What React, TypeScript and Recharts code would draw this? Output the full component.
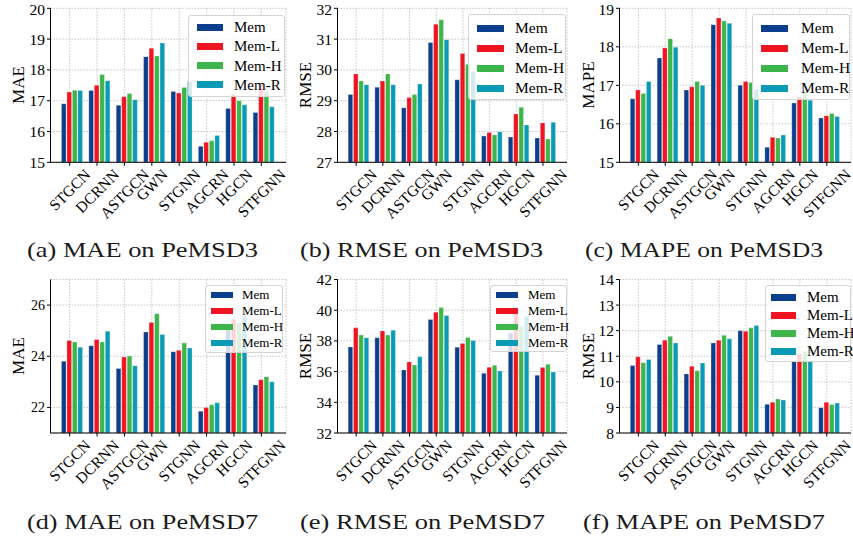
import { BarChart, Bar, XAxis, YAxis, CartesianGrid } from 'recharts';

const categories = ['STGCN', 'DCRNN', 'ASTGCN', 'GWN', 'STGNN', 'AGCRN', 'HGCN', 'STFGNN'];
const seriesNames = ['Mem', 'Mem-L', 'Mem-H', 'Mem-R'];
const seriesColors = ['#0b3f8d', '#ef1422', '#3db54a', '#0a9ab5'];

// (a) MAE on PeMSD3
const maeD3Mem = [16.9, 17.33, 16.85, 18.43, 17.3, 15.52, 16.75, 16.62];
const maeD3MemL = [17.28, 17.5, 17.13, 18.7, 17.25, 15.65, 17.2, 17.58];
const maeD3MemH = [17.34, 17.85, 17.23, 18.45, 17.43, 15.7, 17.0, 17.3];
const maeD3MemR = [17.33, 17.65, 17.03, 18.87, 17.62, 15.87, 16.87, 16.8];

// (b) RMSE on PeMSD3
const rmseD3Mem = [29.2, 29.44, 28.77, 30.89, 29.68, 27.85, 27.82, 27.79];
const rmseD3MemL = [29.87, 29.64, 29.1, 31.48, 30.53, 27.97, 28.57, 28.28];
const rmseD3MemH = [29.64, 29.87, 29.2, 31.63, 30.18, 27.89, 28.79, 27.76];
const rmseD3MemR = [29.52, 29.52, 29.54, 30.98, 29.95, 27.99, 28.21, 28.3];

// (c) MAPE on PeMSD3
const mapeD3Mem = [16.65, 17.71, 16.88, 18.57, 17.0, 15.39, 16.54, 16.15];
const mapeD3MemL = [16.88, 17.97, 16.96, 18.75, 17.1, 15.65, 16.7, 16.21];
const mapeD3MemH = [16.79, 18.21, 17.1, 18.67, 17.07, 15.63, 16.85, 16.27];
const mapeD3MemR = [17.1, 17.99, 17.0, 18.61, 16.9, 15.71, 16.61, 16.19];

// (d) MAE on PeMSD7
const maeD7Mem = [23.8, 24.41, 23.52, 24.95, 24.18, 21.85, 25.05, 22.88];
const maeD7MemL = [24.62, 24.65, 23.97, 25.32, 24.23, 22.0, 25.45, 23.08];
const maeD7MemH = [24.56, 24.56, 24.01, 25.66, 24.52, 22.1, 25.3, 23.2];
const maeD7MemR = [24.35, 24.98, 23.63, 24.85, 24.32, 22.18, 25.58, 23.0];

// (e) RMSE on PeMSD7
const rmseD7Mem = [37.61, 38.2, 36.11, 39.39, 37.59, 35.89, 38.52, 35.76];
const rmseD7MemL = [38.85, 38.65, 36.63, 39.87, 37.83, 36.28, 39.78, 36.26];
const rmseD7MemH = [38.39, 38.39, 36.43, 40.17, 38.22, 36.41, 38.96, 36.48];
const rmseD7MemR = [38.2, 38.7, 36.96, 39.65, 38.02, 36.04, 39.61, 35.98];

// (f) MAPE on PeMSD7
const mapeD7Mem = [10.64, 11.46, 10.31, 11.52, 12.0, 9.12, 10.81, 8.99];
const mapeD7MemL = [10.98, 11.63, 10.61, 11.63, 11.98, 9.2, 11.11, 9.2];
const mapeD7MemH = [10.75, 11.78, 10.43, 11.82, 12.11, 9.33, 11.19, 9.11];
const mapeD7MemR = [10.87, 11.52, 10.74, 11.68, 12.2, 9.29, 10.83, 9.17];

const SERIF = '"Liberation Serif", serif';

let measureCtx: CanvasRenderingContext2D | null = null;
function textWidth(s: string, font: string) {
  if (!measureCtx) measureCtx = document.createElement('canvas').getContext('2d');
  if (!measureCtx) return s.length * 8;
  measureCtx.font = font;
  return measureCtx.measureText(s).width;
}

// rotated category label, bbox centred under the tick
function SlantTick(props: any) {
  const { x, y, payload, fontSize } = props;
  const w = textWidth(payload.value, `${fontSize}px "Liberation Serif"`);
  const h = fontSize * 0.72;
  const half = 0.7071 * (w / 2 + h / 2);
  const cy = y + half;
  return (
    <text
      x={x}
      y={cy}
      textAnchor="middle"
      dominantBaseline="central"
      transform={`rotate(-45 ${x} ${cy})`}
      fill="#000"
      fontSize={fontSize}
      fontFamily={SERIF}
    >
      {payload.value}
    </text>
  );
}

type Box = { x: number; y: number; w: number; h: number };

interface PanelProps {
  left: number;
  top: number;
  width: number;
  height: number;
  plot: { x0: number; x1: number; y0: number; y1: number };
  values: number[][];
  domain: [number, number];
  ticks: number[];
  tickFont: number;
  legend: { box: Box; row0: number; step: number; patchX: number; patchW: number; patchH: number; textX: number; font: number };
}

function Panel({ left, top, width, height, plot, values, domain, ticks, tickFont, legend }: PanelProps) {
  const data = categories.map((name, i) => ({
    name,
    mem: values[0][i],
    memL: values[1][i],
    memH: values[2][i],
    memR: values[3][i],
  }));
  const yAxisW = 30;
  const xAxisH = 70;
  const margin = {
    top: plot.y0 - top,
    left: plot.x0 - left - yAxisW,
    right: left + width - plot.x1,
    bottom: top + height - plot.y1 - xAxisH,
  };
  const s = (plot.x1 - plot.x0) / 8.6;
  const keys = ['mem', 'memL', 'memH', 'memR'];
  return (
    <div style={{ position: 'absolute', left, top, width, height }}>
      <BarChart
        width={width}
        height={height}
        data={data}
        margin={margin}
        barSize={s * 0.17}
        barGap={s * 0.03}
      >
        <CartesianGrid stroke="#b8b8b8" strokeDasharray="1.5 1.5" strokeWidth={0.8} />
        <XAxis
          dataKey="name"
          type="category"
          interval={0}
          padding={{ left: s * 0.2, right: s * 0.4 }}
          height={xAxisH}
          tickSize={3.5}
          tickMargin={2}
          axisLine={{ stroke: '#000', strokeWidth: 1 }}
          tickLine={{ stroke: '#000' }}
          tick={<SlantTick fontSize={15.5} />}
        />
        <XAxis xAxisId="top" orientation="top" dataKey="name" height={0} tick={false} tickLine={false} axisLine={{ stroke: '#000', strokeWidth: 1 }} />
        <YAxis
          type="number"
          domain={domain}
          ticks={ticks}
          allowDataOverflow
          width={yAxisW}
          tickSize={3.5}
          tickMargin={2}
          axisLine={{ stroke: '#000', strokeWidth: 1 }}
          tickLine={{ stroke: '#000' }}
          tick={{ fill: '#000', fontSize: tickFont, fontFamily: SERIF }}
        />
        <YAxis yAxisId="right" orientation="right" type="number" domain={[0, 1]} width={0} tick={false} tickLine={false} axisLine={{ stroke: '#000', strokeWidth: 1 }} />
        <Bar dataKey="pad" fill="none" isAnimationActive={false} />
        {keys.map((k, i) => (
          <Bar
            key={k}
            dataKey={k}
            name={seriesNames[i]}
            fill={seriesColors[i]}
            stroke="#ffffff"
            strokeOpacity={0.45}
            strokeWidth={0.6}
            isAnimationActive={false}
          />
        ))}
      </BarChart>
      <div
        style={{
          position: 'absolute',
          left: legend.box.x - left,
          top: legend.box.y - top,
          width: legend.box.w,
          height: legend.box.h,
          boxSizing: 'border-box',
          border: '1px solid #d4d4d4',
          borderRadius: 3,
          background: 'rgba(255,255,255,0.82)',
        }}
      >
        {seriesNames.map((n, i) => {
          const cy = legend.row0 + legend.step * i - legend.box.y;
          return (
            <div key={n}>
              <div
                style={{
                  position: 'absolute',
                  left: legend.patchX - legend.box.x,
                  top: cy - legend.patchH / 2,
                  width: legend.patchW,
                  height: legend.patchH,
                  background: seriesColors[i],
                }}
              />
              <div
                style={{
                  position: 'absolute',
                  left: legend.textX - legend.box.x,
                  top: cy - legend.font * 0.6,
                  fontFamily: SERIF,
                  fontSize: legend.font,
                  lineHeight: `${legend.font * 1.2}px`,
                  color: '#000',
                  whiteSpace: 'nowrap',
                }}
              >
                {n}
              </div>
            </div>
          );
        })}
      </div>
    </div>
  );
}

const captions = [
  { text: '(a) MAE on PeMSD3', x0: 27, x1: 258, y: 257 },
  { text: '(b) RMSE on PeMSD3', x0: 300, x1: 543, y: 257 },
  { text: '(c) MAPE on PeMSD3', x0: 585, x1: 823, y: 257 },
  { text: '(d) MAE on PeMSD7', x0: 27, x1: 258, y: 529 },
  { text: '(e) RMSE on PeMSD7', x0: 300, x1: 545, y: 529 },
  { text: '(f) MAPE on PeMSD7', x0: 583, x1: 825, y: 529 },
];

const yLabels = [
  { text: 'MAE', x: 18, y: 85 },
  { text: 'RMSE', x: 305, y: 85 },
  { text: 'MAPE', x: 588, y: 85 },
  { text: 'MAE', x: 18, y: 356 },
  { text: 'RMSE', x: 305, y: 356 },
  { text: 'RMSE', x: 588, y: 356 },
];

export default function App() {
  const topPlot = { y0: 8.3, y1: 162.3 };
  const botPlot = { y0: 279.5, y1: 433 };
  const cols = [
    { left: 0, width: 290, x0: 50.5, x1: 286 },
    { left: 290, width: 283, x0: 337.5, x1: 567 },
    { left: 573, width: 280, x0: 619.5, x1: 851 },
  ];
  return (
    <div style={{ position: 'absolute', left: 0, top: 0, width: 853, height: 542, background: '#fff' }}>
      <Panel
        left={cols[0].left} top={0} width={cols[0].width} height={240}
        plot={{ x0: cols[0].x0, x1: cols[0].x1, ...topPlot }}
        values={[maeD3Mem, maeD3MemL, maeD3MemH, maeD3MemR]}
        domain={[15, 20]} ticks={[15, 16, 17, 18, 19, 20]} tickFont={15.5}
        legend={{ box: { x: 188, y: 15, w: 97, h: 82 }, row0: 26, step: 19.3, patchX: 196, patchW: 26, patchH: 7, textX: 233, font: 15 }}
      />
      <Panel
        left={cols[1].left} top={0} width={cols[1].width} height={240}
        plot={{ x0: cols[1].x0, x1: cols[1].x1, ...topPlot }}
        values={[rmseD3Mem, rmseD3MemL, rmseD3MemH, rmseD3MemR]}
        domain={[27, 32]} ticks={[27, 28, 29, 30, 31, 32]} tickFont={15.5}
        legend={{ box: { x: 468, y: 14, w: 98, h: 86 }, row0: 27, step: 20, patchX: 476, patchW: 27, patchH: 7, textX: 514, font: 15.5 }}
      />
      <Panel
        left={cols[2].left} top={0} width={cols[2].width} height={240}
        plot={{ x0: cols[2].x0, x1: cols[2].x1, ...topPlot }}
        values={[mapeD3Mem, mapeD3MemL, mapeD3MemH, mapeD3MemR]}
        domain={[15, 19]} ticks={[15, 16, 17, 18, 19]} tickFont={15.5}
        legend={{ box: { x: 752, y: 14, w: 98, h: 86 }, row0: 27, step: 20, patchX: 760, patchW: 27, patchH: 7, textX: 800, font: 15.5 }}
      />
      <Panel
        left={cols[0].left} top={270} width={cols[0].width} height={240}
        plot={{ x0: cols[0].x0, x1: cols[0].x1, ...botPlot }}
        values={[maeD7Mem, maeD7MemL, maeD7MemH, maeD7MemR]}
        domain={[21, 27]} ticks={[22, 24, 26]} tickFont={14}
        legend={{ box: { x: 205, y: 285, w: 78, h: 68 }, row0: 294, step: 16, patchX: 210, patchW: 22, patchH: 6, textX: 241, font: 13 }}
      />
      <Panel
        left={cols[1].left} top={270} width={cols[1].width} height={240}
        plot={{ x0: cols[1].x0, x1: cols[1].x1, ...botPlot }}
        values={[rmseD7Mem, rmseD7MemL, rmseD7MemH, rmseD7MemR]}
        domain={[32, 42]} ticks={[32, 34, 36, 38, 40, 42]} tickFont={15.5}
        legend={{ box: { x: 490, y: 285, w: 77, h: 67 }, row0: 294, step: 16, patchX: 495, patchW: 22, patchH: 6, textX: 527, font: 13 }}
      />
      <Panel
        left={cols[2].left} top={270} width={cols[2].width} height={240}
        plot={{ x0: cols[2].x0, x1: cols[2].x1, ...botPlot }}
        values={[mapeD7Mem, mapeD7MemL, mapeD7MemH, mapeD7MemR]}
        domain={[8, 14]} ticks={[8, 9, 10, 11, 12, 13, 14]} tickFont={15.5}
        legend={{ box: { x: 765, y: 285, w: 86, h: 77 }, row0: 296, step: 18, patchX: 770, patchW: 25, patchH: 7, textX: 806, font: 15 }}
      />
      <svg width={853} height={542} style={{ position: 'absolute', left: 0, top: 0, pointerEvents: 'none' }}>
        {yLabels.map((l, i) => (
          <text
            key={i}
            x={l.x}
            y={l.y}
            textAnchor="middle"
            dominantBaseline="central"
            transform={`rotate(-90 ${l.x} ${l.y})`}
            fontFamily={SERIF}
            fontSize={17}
            fill="#000"
          >
            {l.text}
          </text>
        ))}
        {captions.map((c, i) => (
          <text
            key={i}
            x={c.x0}
            y={c.y}
            textLength={c.x1 - c.x0}
            lengthAdjust="spacingAndGlyphs"
            fontFamily={SERIF}
            fontSize={21}
            fill="#1a1a1a"
          >
            {c.text}
          </text>
        ))}
      </svg>
    </div>
  );
}
